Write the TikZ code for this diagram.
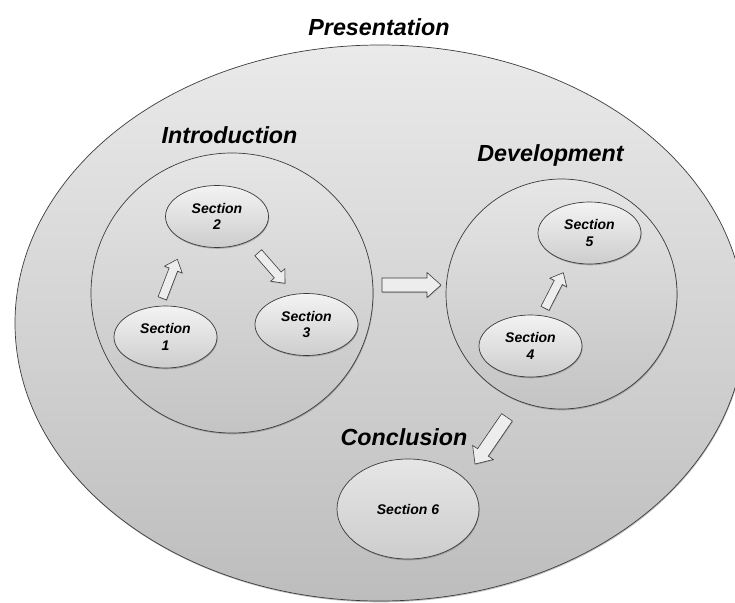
\documentclass[tikz,border=0pt]{standalone}
\usepackage{fontspec}
\setmainfont{Liberation Sans}
\usetikzlibrary{shapes.geometric,shadows,calc}
\definecolor{edgecol}{HTML}{3C3C3C}
\definecolor{outerTop}{HTML}{EAEAEA}
\definecolor{outerBot}{HTML}{BDBDBD}
\definecolor{midTop}{HTML}{E6E6E6}
\definecolor{midBot}{HTML}{C4C4C4}
\definecolor{secTop}{HTML}{F3F3F3}
\definecolor{secBot}{HTML}{CDCDCD}
\definecolor{arrowfill}{HTML}{EDEDED}
\newcommand\blockarrow[5]{%
  \draw[barrow] let \p1=(#1), \p2=(#2),
      \n1={atan2(\y2-\y1,\x2-\x1)},
      \n2={veclen(\x2-\x1,\y2-\y1)} in
    [shift={(\p1)}, rotate=\n1]
    (0pt,{-#3/2}) -- ({\n2-#5},{-#3/2}) -- ({\n2-#5},{-#4/2}) -- (\n2,0pt)
    -- ({\n2-#5},{#4/2}) -- ({\n2-#5},{#3/2}) -- (0pt,{#3/2}) -- cycle;}
\begin{document}
\begin{tikzpicture}[x=1pt,y=-1pt,
  softshadow/.style={drop shadow={shadow xshift=0.6pt, shadow yshift=-1.3pt, opacity=0.35, fill=black!70}},
  titletext/.style={font=\fontsize{23.3}{27}\selectfont\bfseries\itshape, inner sep=0pt, anchor=base},
  region/.style={ellipse, draw=edgecol, line width=0.7pt, inner sep=0pt, top color=midTop, bottom color=midBot, softshadow},
  secbox/.style={ellipse, draw=edgecol, line width=0.7pt, inner sep=0pt, minimum width=103pt, minimum height=62pt,
    top color=secTop, bottom color=secBot, align=center,
    font=\fontsize{14}{16.7}\selectfont\bfseries\itshape, softshadow},
  barrow/.style={draw=edgecol, fill=arrowfill, line width=0.6pt, line join=miter,
    drop shadow={shadow xshift=0.5pt, shadow yshift=-1pt, opacity=0.3, fill=black!70}}
]
\useasboundingbox (0,0) rectangle (735,602);
\fill[white] (0,0) rectangle (735,602);
% outer region
\node[region, top color=outerTop, bottom color=outerBot, minimum width=730pt, minimum height=556pt] (pres) at (380,323) {};
\node[titletext] (prestitle) at (379,35.7) {Presentation};
% inner regions
\node[region, minimum width=282pt, minimum height=280pt] (intro) at (232,293) {};
\node[region, minimum width=231pt, minimum height=230pt] (dev) at (561.5,294) {};
\node[titletext] (introtitle) at (229.5,143.3) {Introduction};
\node[titletext] (devtitle) at (550.5,161.7) {Development};
\node[titletext] (conctitle) at (404,445) {Conclusion};
% sections
\node[secbox] (s1) at (165.5,337) {Section\\1};
\node[secbox] (s2) at (217,216.5) {Section\\2};
\node[secbox] (s3) at (306.5,324.5) {Section\\3};
\node[secbox] (s4) at (530.5,346) {Section\\4};
\node[secbox] (s5) at (589.5,233) {Section\\5};
\node[secbox, minimum width=142pt, minimum height=100pt, top color=midTop, bottom color=secBot] (s6) at (408,509) {Section 6};
% arrow end points
\coordinate (a1s) at (162.3,298.3); \coordinate (a1e) at (177.3,259.3);
\coordinate (a2s) at (258.3,252.7); \coordinate (a2e) at (285,283.3);
\coordinate (a3s) at (382,285);     \coordinate (a3e) at (441,285);
\coordinate (a4s) at (545,308.3);   \coordinate (a4e) at (563.3,272.7);
\coordinate (a5s) at (507,417.3);   \coordinate (a5e) at (475,464);
\blockarrow{a1s}{a1e}{9pt}{19pt}{11pt}
\blockarrow{a2s}{a2e}{9pt}{19pt}{11pt}
\blockarrow{a3s}{a3e}{14pt}{25pt}{14pt}
\blockarrow{a4s}{a4e}{9pt}{19pt}{11pt}
\blockarrow{a5s}{a5e}{13pt}{25pt}{14pt}
\end{tikzpicture}
\end{document}
